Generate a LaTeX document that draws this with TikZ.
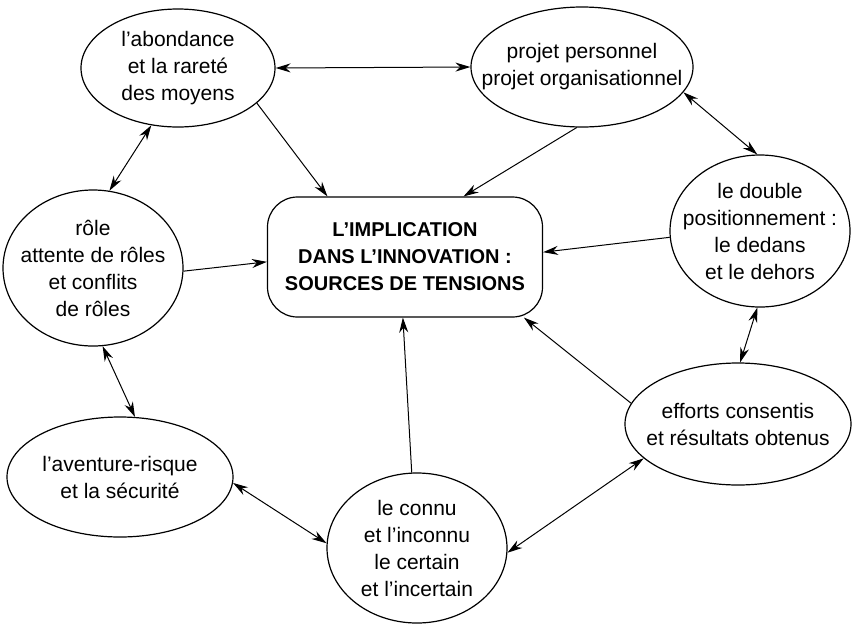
\documentclass[tikz,border=0pt]{standalone}
\usepackage{fontspec}
\setmainfont{Liberation Sans}
\usetikzlibrary{shapes.geometric, arrows.meta}

\begin{document}
\begin{tikzpicture}[x=1pt, y=-1pt,
bub/.style={draw, ellipse, line width=1.2pt, align=center, inner xsep=-40pt, inner ysep=-20pt, font=\fontsize{21}{27}\selectfont},
arr/.style={line width=1pt, -{Stealth[length=15pt,width=9pt]}},
both/.style={line width=1pt, {Stealth[length=15pt,width=9pt]}-{Stealth[length=15pt,width=9pt]}}]
\useasboundingbox (0,0) rectangle (852,625);
\node[bub, minimum width=194pt, minimum height=118pt] (abond) at (178,68) {l’abondance\\et la rareté\\des moyens};
\node[bub, minimum width=222pt, minimum height=120pt] (proj) at (582,67) {projet personnel\\projet organisationnel};
\node[bub, minimum width=180pt, minimum height=156pt] (role) at (93,268) {rôle\\attente de rôles\\et conflits\\de rôles};
\node[draw, rounded corners=30pt, line width=1.2pt, minimum width=275pt, minimum height=120pt, align=center, font=\bfseries\fontsize{20}{27}\selectfont] (main) at (405,257) {L’IMPLICATION\\DANS L’INNOVATION :\\SOURCES DE TENSIONS};
\node[bub, minimum width=180pt, minimum height=152pt] (posit) at (760,231) {le double\\positionnement :\\le dedans\\et le dehors};
\node[bub, minimum width=226pt, minimum height=120pt] (avent) at (120,477) {l’aventure-risque\\et la sécurité};
\node[bub, minimum width=180pt, minimum height=150pt] (connu) at (417,548) {le connu\\et l’inconnu\\le certain\\et l’incertain};
\node[bub, minimum width=226pt, minimum height=122pt] (eff) at (738,424) {efforts consentis\\et résultats obtenus};
\foreach \a/\b in {abond.-24/main.142, proj.-95/main.46, role.-2/main.182, posit.184/main.2, eff.169/main.-27, connu.94/main.-92}
\draw[arr] (\a) -- (\b);
\foreach \a/\b in {abond.0/proj.180, abond.-115/role.78, proj.-14/posit.92, posit.-92/eff.88, role.-83/avent.76, avent.-3/connu.177, connu.-3/eff.-160}
\draw[both] (\a) -- (\b);
\end{tikzpicture}
\end{document}
